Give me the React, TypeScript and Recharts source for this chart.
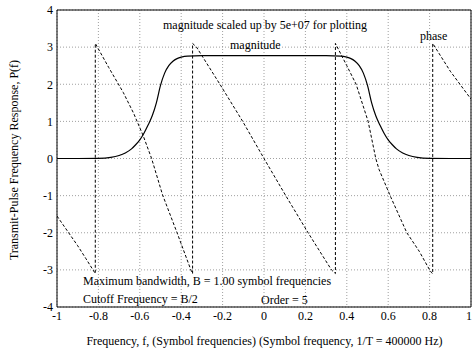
import React from 'react';
import { LineChart, Line, XAxis, YAxis, CartesianGrid, ReferenceLine } from 'recharts';

const magFreq = [-1, -0.9, -0.8, -0.74, -0.7, -0.67, -0.64, -0.62, -0.6, -0.58, -0.56, -0.54, -0.52, -0.5, -0.48, -0.46, -0.44, -0.42, -0.4, -0.37, -0.3, 0, 0.3, 0.37, 0.4, 0.42, 0.44, 0.46, 0.48, 0.5, 0.52, 0.54, 0.56, 0.58, 0.6, 0.62, 0.64, 0.67, 0.7, 0.74, 0.8, 0.9, 1];
const magValue = [0, 0, 0.005, 0.03, 0.08, 0.15, 0.26, 0.37, 0.5, 0.68, 0.9, 1.15, 1.5, 1.97, 2.3, 2.5, 2.62, 2.69, 2.73, 2.76, 2.77, 2.77, 2.77, 2.76, 2.73, 2.69, 2.62, 2.5, 2.3, 1.97, 1.5, 1.15, 0.9, 0.68, 0.5, 0.37, 0.26, 0.15, 0.08, 0.03, 0.005, 0, 0];

const phaseFreq = [-1, -0.95, -0.9, -0.86, -0.815, -0.815, -0.75, -0.68, -0.63, -0.584, -0.543, -0.49, -0.42, -0.35, -0.345, -0.345, -0.326, -0.213, -0.103, 0, 0.105, 0.213, 0.326, 0.345, 0.345, 0.4, 0.445, 0.503, 0.54, 0.556, 0.614, 0.69, 0.75, 0.8, 0.81, 0.815, 0.815, 0.9, 1];
const phaseValue = [-1.55, -1.95, -2.35, -2.7, -3.1, 3.1, 2.45, 1.78, 1.22, 0.62, 0.0, -0.98, -2.0, -3.05, -3.1, 3.1, 3.0, 2.0, 1.0, 0, -1.0, -2.0, -3.0, -3.1, 3.1, 2.5, 2.0, 1.0, 0.0, -0.3, -1.06, -2.0, -2.5, -3.0, -3.08, -3.1, 3.1, 2.35, 1.6];

const xTicks = [-1, -0.8, -0.6, -0.4, -0.2, 0, 0.2, 0.4, 0.6, 0.8, 1];
const yTicks = [-4, -3, -2, -1, 0, 1, 2, 3, 4];

const magData = magFreq.map((f, i) => ({ f, v: magValue[i] }));
const phaseData = phaseFreq.map((f, i) => ({ f, v: phaseValue[i] }));

const FONT = 'Liberation Serif, Times New Roman, serif';
const tickStyle = { fontFamily: FONT, fontSize: 12, fill: '#000' };

const XTick = (props: any) => {
  const { x, y, payload } = props;
  const isLast = payload.value === 1;
  return (
    <text x={isLast ? x + 1 : x} y={y} dy="0.71em" textAnchor={isLast ? 'end' : 'middle'} style={tickStyle}>
      {String(payload.value)}
    </text>
  );
};

export default function App() {
  return (
    <div style={{ position: 'absolute', left: 0, top: 0, width: 472, height: 354, background: '#fff' }}>
      <LineChart width={472} height={354} margin={{ top: 10, right: 1, bottom: 0, left: 0 }}>
        <CartesianGrid stroke="#888" strokeDasharray="1 2" strokeWidth={0.8} verticalValues={xTicks} horizontalValues={yTicks} />
        <XAxis
          type="number"
          dataKey="f"
          domain={[-1, 1]}
          ticks={xTicks}
          allowDataOverflow
          height={47}
          tickLine={false}
          tickSize={3}
          tickMargin={1}
          axisLine={{ stroke: '#000', strokeWidth: 1 }}
          tick={<XTick />}
          interval={0}
        />
        <YAxis
          type="number"
          domain={[-4, 4]}
          ticks={yTicks}
          allowDataOverflow
          width={57}
          tickLine={false}
          tickSize={2}
          tickMargin={2}
          axisLine={{ stroke: '#000', strokeWidth: 1 }}
          tick={tickStyle}
          interval={0}
        />
        <ReferenceLine y={4} stroke="#000" strokeWidth={1} />
        <ReferenceLine x={1} stroke="#000" strokeWidth={1} />
        <Line data={magData} dataKey="v" type="monotone" stroke="#000" strokeWidth={1.2} dot={false} isAnimationActive={false} />
        <Line data={phaseData} dataKey="v" type="linear" stroke="#000" strokeWidth={1} strokeDasharray="3 2" dot={false} isAnimationActive={false} />
        <text x={163} y={28.5} style={tickStyle}>magnitude scaled up by 5e+07 for plotting</text>
        <text x={230} y={48.5} style={tickStyle}>magnitude</text>
        <text x={420} y={40} style={tickStyle}>phase</text>
        <text x={83} y={284.5} style={tickStyle}>Maximum bandwidth, B = 1.00 symbol frequencies</text>
        <text x={83} y={302.5} style={tickStyle}>Cutoff Frequency = B/2</text>
        <text x={261} y={303.5} style={tickStyle}>Order = 5</text>
        <text x={264.5} y={345} textAnchor="middle" style={tickStyle}>Frequency, f, (Symbol frequencies) (Symbol frequency, 1/T = 400000 Hz)</text>
        <text x={18} y={160} textAnchor="middle" transform="rotate(-90 18 160)" style={tickStyle}>Transmit-Pulse Frequency Response, P(f)</text>
      </LineChart>
    </div>
  );
}
